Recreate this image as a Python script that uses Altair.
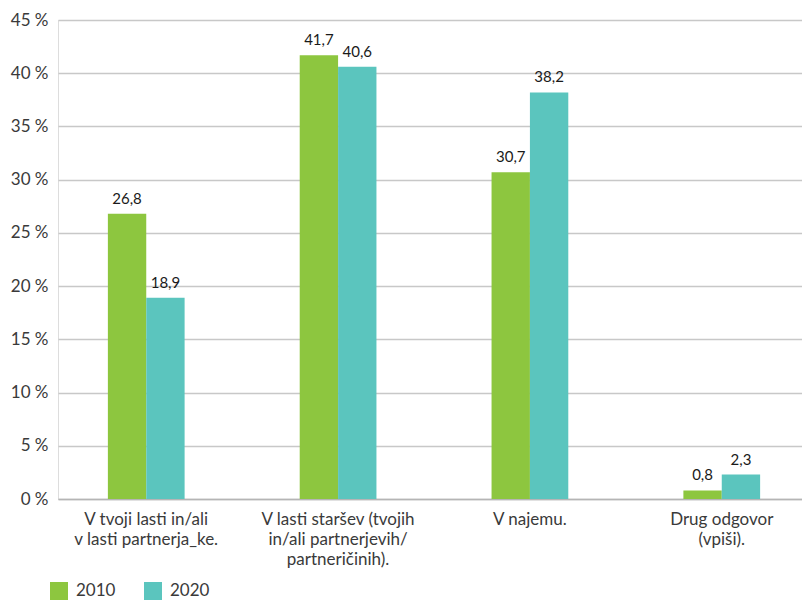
import altair as alt
import pandas as pd

categories = [
    "V tvoji lasti in/ali|v lasti partnerja_ke.",
    "V lasti staršev (tvojih|in/ali partnerjevih/|partneričinih).",
    "V najemu.",
    "Drug odgovor|(vpiši).",
]
years = ["2010", "2020"]
values_2010 = [26.8, 41.7, 30.7, 0.8]
values_2020 = [18.9, 40.6, 38.2, 2.3]
y_ticks = [0, 5, 10, 15, 20, 25, 30, 35, 40, 45]

rows = []
for c, a, b in zip(categories, values_2010, values_2020):
    rows.append({"cat": c, "year": "2010", "value": a})
    rows.append({"cat": c, "year": "2020", "value": b})
df = pd.DataFrame(rows)

FONT = "Lato"
GREEN = "#8dc63f"
TEAL = "#5bc5be"
TXT = "#3a3a3a"

base = alt.Chart(df).transform_calculate(
    label="replace(format(datum.value, '.1f'), '.', ',')"
).encode(
    x=alt.X(
        "cat:N",
        sort=categories,
        scale=alt.Scale(paddingInner=0.6, paddingOuter=0.26, range=[0, 752]),
        axis=alt.Axis(
            title=None,
            labelExpr="split(datum.label, '|')",
            labelAngle=0,
            labelFontSize=17,
            labelLineHeight=20,
            labelPadding=12,
            labelColor=TXT,
            labelFont=FONT,
            ticks=False,
            domainColor="#b5b5b5",
            domainWidth=1.5,
            labelBaseline="top",
        ),
    ),
    xOffset=alt.XOffset("year:N", sort=years, scale=alt.Scale(paddingInner=0, paddingOuter=0)),
    y=alt.Y(
        "value:Q",
        scale=alt.Scale(domain=[0, 45], nice=False),
        axis=alt.Axis(
            title=None,
            values=y_ticks,
            labelExpr="datum.value + ' %'",
            grid=True,
            gridColor="#c8c8c8",
            gridWidth=1.5,
            ticks=False,
            domain=False,
            labelPadding=10,
            labelFontSize=17,
            labelColor=TXT,
            labelFont=FONT,
        ),
    ),
)

bars = base.mark_bar().encode(
    color=alt.Color(
        "year:N",
        sort=years,
        scale=alt.Scale(domain=years, range=[GREEN, TEAL]),
        legend=alt.Legend(
            title=None,
            orient="none",
            legendX=-8,
            legendY=562,
            direction="horizontal",
            symbolType="square",
            symbolSize=324,
            symbolStrokeWidth=0,
            symbolOpacity=1,
            labelFontSize=17,
            labelFont=FONT,
            labelColor=TXT,
            columnPadding=28,
            labelOffset=8,
            padding=0,
        ),
    )
)

text = base.mark_text(
    baseline="bottom", dy=-7, fontSize=15, font=FONT, fontWeight="normal", color="#1a1a1a"
).encode(text="label:N")

chart = (
    (bars + text)
    .properties(
        width=744,
        height=479,
        autosize=alt.AutoSizeParams(type="none"),
        padding={"left": 50, "top": 12, "right": 0, "bottom": 102},
    )
    .configure_view(stroke=None)
    .configure(font=FONT)
)

chart.save("out.html", embed_options={"renderer": "svg", "actions": False})
